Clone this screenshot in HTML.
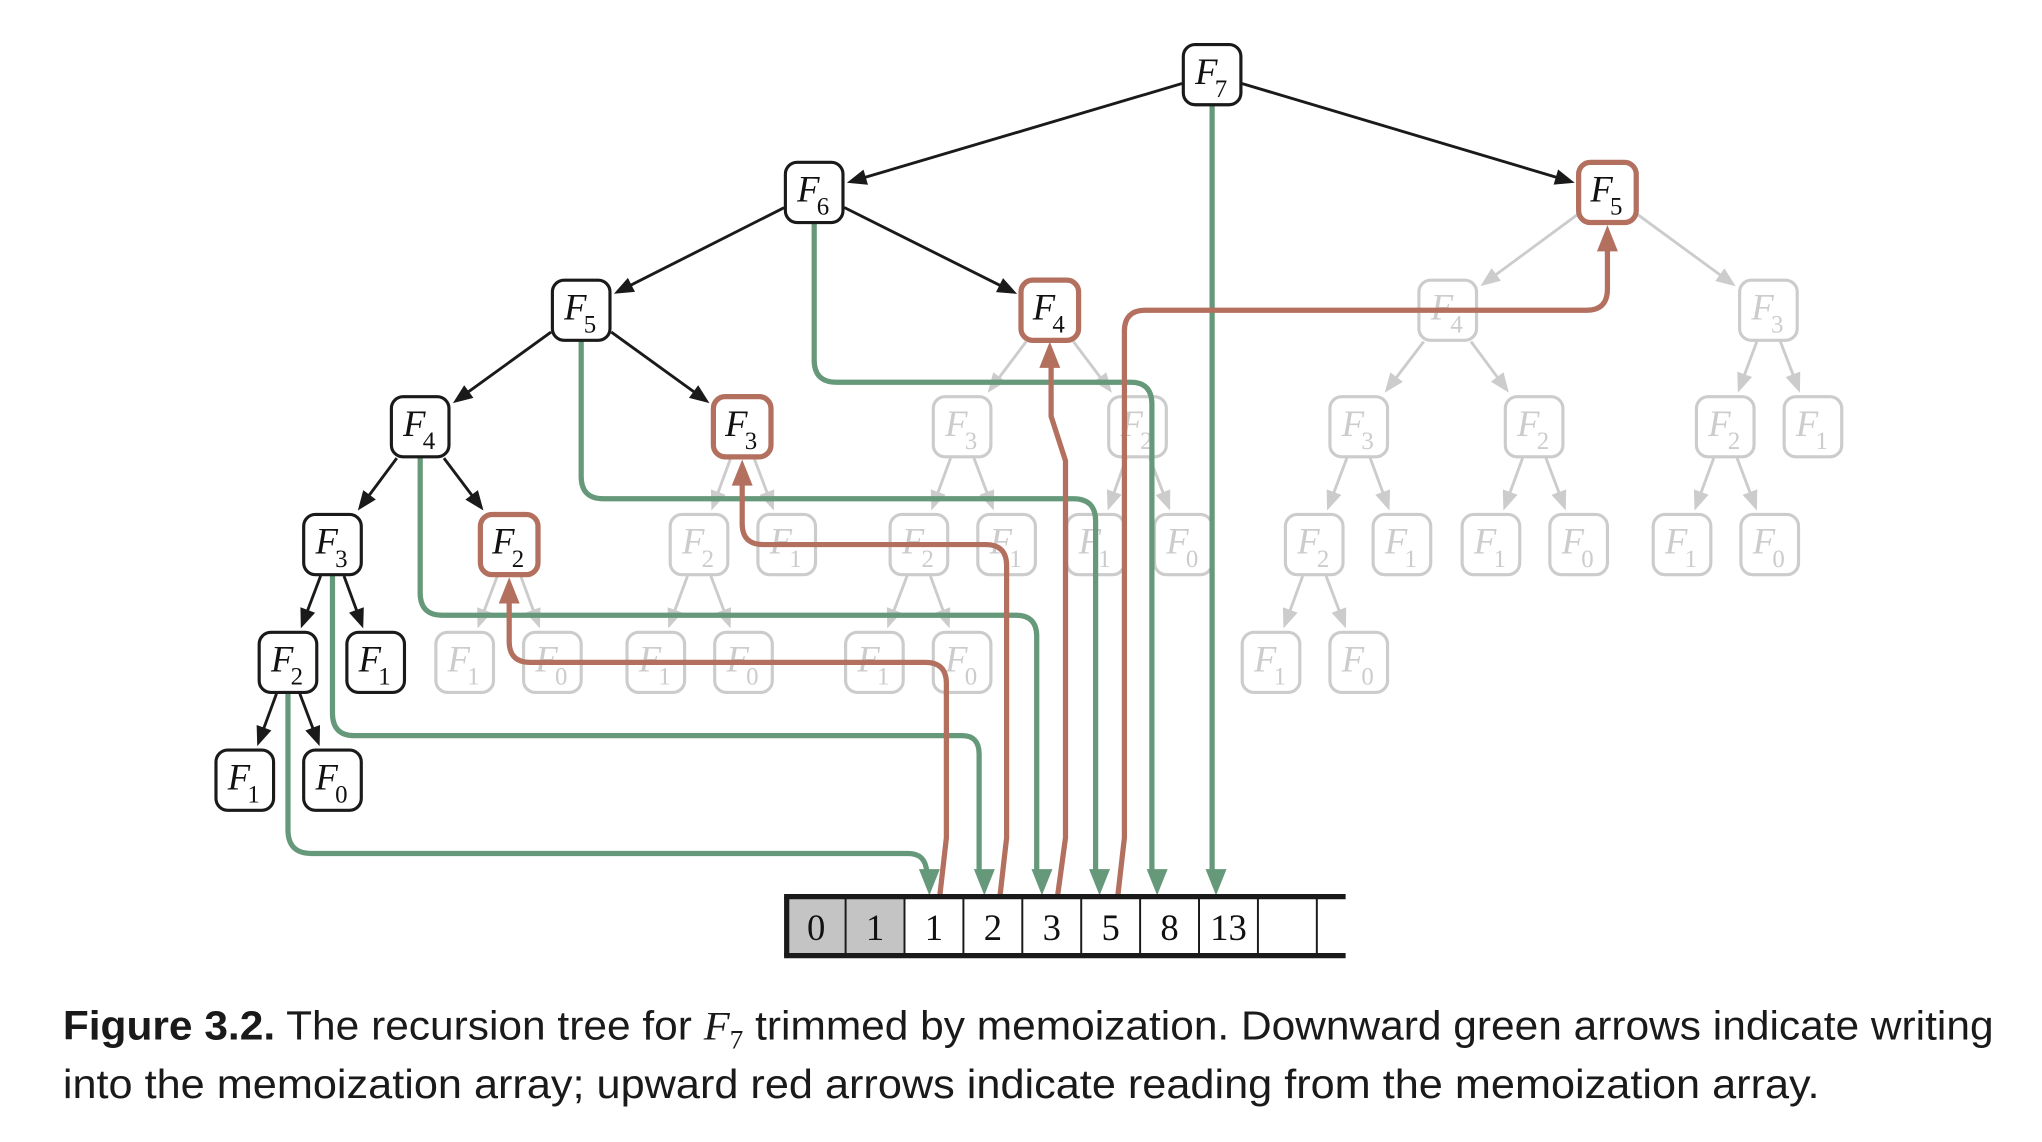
<!DOCTYPE html>
<html><head><meta charset="utf-8">
<style>html,body{margin:0;padding:0;background:#fff;width:2042px;height:1142px;overflow:hidden}</style>
</head><body>
<svg id="s" xmlns="http://www.w3.org/2000/svg" width="2042" height="1142" viewBox="0 0 1560 872.4">
<rect x="0" y="0" width="1560" height="873" fill="#fff"/>
<g id="grey"></g>
<g id="paths"></g>
<g id="active"></g>
<g id="arr">
  <rect x="601" y="686" width="90" height="43" fill="#c4c4c4"/>
  <g stroke="#1a1a1a" stroke-width="1.5">
    <line x1="646" y1="686" x2="646" y2="729"/><line x1="691" y1="686" x2="691" y2="729"/>
    <line x1="736" y1="686" x2="736" y2="729"/><line x1="781" y1="686" x2="781" y2="729"/>
    <line x1="826" y1="686" x2="826" y2="729"/><line x1="871" y1="686" x2="871" y2="729"/>
    <line x1="916" y1="686" x2="916" y2="729"/><line x1="961" y1="686" x2="961" y2="729"/>
    <line x1="1006" y1="686" x2="1006" y2="729"/>
  </g>
  <g stroke="#1a1a1a" stroke-width="4">
    <line x1="599" y1="685" x2="1028" y2="685"/><line x1="599" y1="730" x2="1028" y2="730"/>
    <line x1="601" y1="685" x2="601" y2="730"/>
  </g>
  <g font-family="'Liberation Serif',serif" font-size="28" text-anchor="middle" fill="#111">
    <text x="623.5" y="718">0</text><text x="668.5" y="718">1</text><text x="713.5" y="718">1</text>
    <text x="758.5" y="718">2</text><text x="803.5" y="718">3</text><text x="848.5" y="718">5</text>
    <text x="893.5" y="718">8</text><text x="938.5" y="718">13</text>
  </g>
</g>
<g font-family="'Liberation Sans',sans-serif" font-size="31" fill="#1a1a1a">
  <text x="48" y="794" textLength="1475" lengthAdjust="spacingAndGlyphs"><tspan font-weight="bold">Figure 3.2.</tspan> The recursion tree for <tspan font-family="'Liberation Serif',serif" font-style="italic">F</tspan><tspan font-family="'Liberation Serif',serif" font-size="20" dy="7">7</tspan><tspan dy="-7"> trimmed by memoization. Downward green arrows indicate writing</tspan></text>
  <text x="48" y="839" textLength="1342" lengthAdjust="spacingAndGlyphs">into the memoization array; upward red arrows indicate reading from the memoization array.</text>
</g>
</svg>
<script>
(function(){
var NS="http://www.w3.org/2000/svg";
function el(p,t,a){var e=document.createElementNS(NS,t);for(var k in a)e.setAttribute(k,a[k]);p.appendChild(e);return e;}
var G=document.getElementById('grey'),P=document.getElementById('paths'),A=document.getElementById('active');
var W=22,H=23;
var RED="#b3705f",GREEN="#66987a",BLK="#1a1a1a",GR="#cccccc";
// nodes: id:[x,y,n,type] type: b black, r red, g grey
var N={
a:[926,57,7,'b'],b:[622,147,6,'b'],c:[1228,147,5,'r'],
d:[444,237,5,'b'],e:[802,237,4,'r'],
f:[321,326,4,'b'],g:[567,326,3,'r'],
h:[254,416,3,'b'],i:[389,416,2,'r'],
j:[220,506,2,'b'],k:[287,506,1,'b'],
l:[187,596,1,'b'],m:[254,596,0,'b'],
n1:[355,506,1,'g'],n2:[422,506,0,'g'],
o1:[534,416,2,'g'],o2:[601,416,1,'g'],o3:[501,506,1,'g'],o4:[568,506,0,'g'],
p1:[735,326,3,'g'],p2:[869,326,2,'g'],p3:[702,416,2,'g'],p4:[769,416,1,'g'],p5:[668,506,1,'g'],p6:[735,506,0,'g'],p7:[837,416,1,'g'],p8:[904,416,0,'g'],
q1:[1106,237,4,'g'],q2:[1351,237,3,'g'],q3:[1038,326,3,'g'],q4:[1172,326,2,'g'],q5:[1004,416,2,'g'],q6:[1071,416,1,'g'],q7:[971,506,1,'g'],q8:[1038,506,0,'g'],
q9:[1139,416,1,'g'],q10:[1206,416,0,'g'],q11:[1318,326,2,'g'],q12:[1385,326,1,'g'],q13:[1285,416,1,'g'],q14:[1352,416,0,'g']
};
var E=[['a','b',1],['a','c',1],['b','d',1],['b','e',1],['d','f',1],['d','g',1],['f','h',1],['f','i',1],['h','j',1],['h','k',1],['j','l',1],['j','m',1],
['i','n1'],['i','n2'],['g','o1'],['g','o2'],['o1','o3'],['o1','o4'],
['e','p1'],['e','p2'],['p1','p3'],['p1','p4'],['p3','p5'],['p3','p6'],['p2','p7'],['p2','p8'],
['c','q1'],['c','q2'],['q1','q3'],['q1','q4'],['q3','q5'],['q3','q6'],['q5','q7'],['q5','q8'],['q4','q9'],['q4','q10'],['q2','q11'],['q2','q12'],['q11','q13'],['q11','q14']];
function clip(dx,dy,w,h){var t=Math.min(Math.abs(dx)>1e-6?w/Math.abs(dx):1e9,Math.abs(dy)>1e-6?h/Math.abs(dy):1e9);return t;}
E.forEach(function(e){
 var p=N[e[0]],c=N[e[1]];var col=e[2]?BLK:GR;var tgt=e[2]?A:G;
 var dx=c[0]-p[0],dy=c[1]-p[1];var L=Math.sqrt(dx*dx+dy*dy);
 var t0=clip(dx,dy,W+1,H+1),t1=clip(dx,dy,W+3,H+3);
 var x0=p[0]+dx*t0,y0=p[1]+dy*t0,x1=c[0]-dx*t1,y1=c[1]-dy*t1;
 var ux=dx/L,uy=dy/L,al=15,aw=6;
 var bx=x1-ux*al,by=y1-uy*al;
 el(tgt,'line',{x1:x0,y1:y0,x2:bx+ux*2,y2:by+uy*2,stroke:col,'stroke-width':2.2});
 el(tgt,'polygon',{points:x1+','+y1+' '+(bx-uy*aw)+','+(by+ux*aw)+' '+(bx+uy*aw)+','+(by-ux*aw),fill:col});
});
function node(k){
 var v=N[k];var t=v[3];var tgt=t=='g'?G:A;
 var st=t=='b'?BLK:(t=='r'?RED:GR),sw=t=='r'?4:2.4;
 el(tgt,'rect',{x:v[0]-W,y:v[1]-H,width:2*W,height:2*H,rx:9,ry:9,fill:'#fff',stroke:st,'stroke-width':sw});
 var tc=t=='g'?GR:'#111';
 var tx=el(tgt,'text',{x:v[0]-13,y:v[1]+7,'font-family':"'Liberation Serif',serif",'font-style':'italic','font-size':28,fill:tc});
 tx.textContent='F';
 var s=el(tgt,'text',{x:v[0]+2,y:v[1]+17,'font-family':"'Liberation Serif',serif",'font-size':19,fill:tc});
 s.textContent=v[2];
}
for(var k in N) if(N[k][3]=='g') node(k);
function path(d,col){el(P,'path',{d:d,fill:'none',stroke:col,'stroke-width':4,'stroke-linejoin':'round'});}
function head(x,y,up,col){var l=20,w=8;var by=up?y+l:y-l;el(P,'polygon',{points:x+','+y+' '+(x-w)+','+by+' '+(x+w)+','+by,fill:col});}
// green
path('M220 529 V634 Q220 652 238 652 H694 Q707 652 708 666 L709 668',GREEN);head(710,684,false,GREEN);
path('M254 439 V545 Q254 562 271 562 H735 Q748 562 748 576 V666',GREEN);head(752,684,false,GREEN);
path('M321 349 V453 Q321 470 338 470 H776 Q792 470 792 486 V666',GREEN);head(796,684,false,GREEN);
path('M444 260 V364 Q444 381 461 381 H820 Q837 381 837 398 V666',GREEN);head(840,684,false,GREEN);
path('M622 170 V275 Q622 292 639 292 H864 Q880 292 880 309 V666',GREEN);head(884,684,false,GREEN);
path('M926 80 V666',GREEN);head(929,684,false,GREEN);
// red
path('M718 684 L723 640 V522 Q723 506 707 506 H405 Q389 506 389 490 V455',RED);head(389,441,true,RED);
path('M764 684 L769 640 V432 Q769 416 753 416 H583 Q567 416 567 400 V365',RED);head(567,351,true,RED);
path('M808 684 L814 640 V352 L803 318 V275',RED);head(802,261,true,RED);
path('M854 684 L859 640 V253 Q859 237 875 237 H1212 Q1228 237 1228 221 V186',RED);head(1228,172,true,RED);
for(var k in N) if(N[k][3]!='g') node(k);
})();
</script>
</body></html>
